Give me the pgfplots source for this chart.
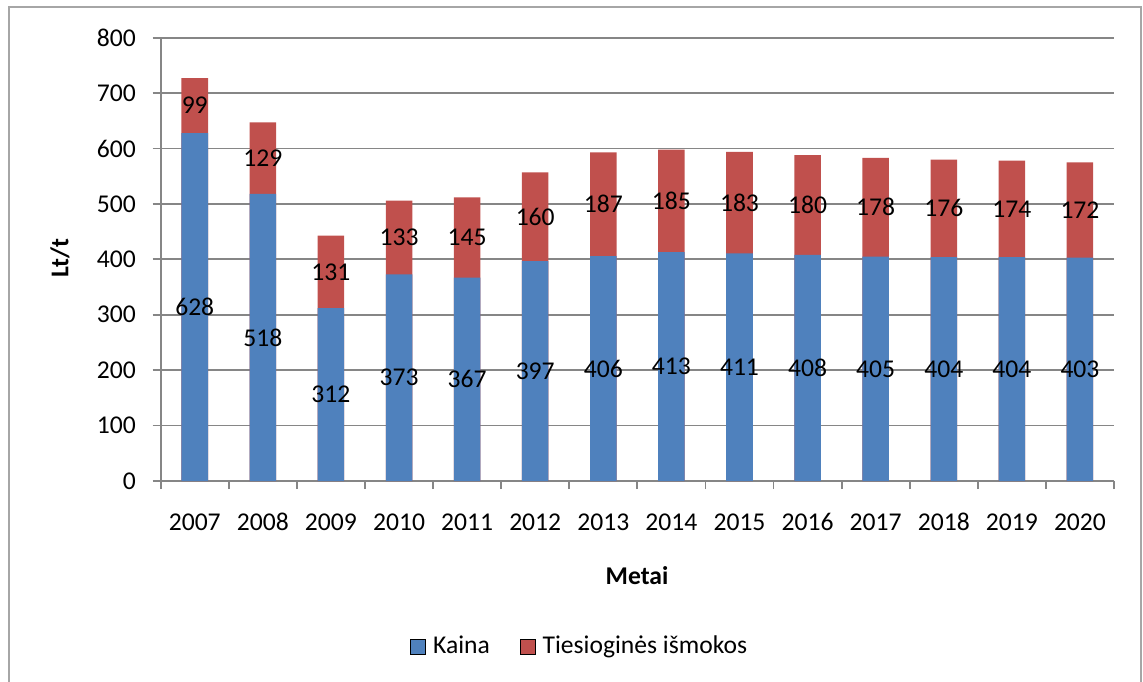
\documentclass[border=0pt]{standalone}
\usepackage{pgfplots}
\pgfplotsset{compat=1.18}
\usepackage{pgfplotstable}
\usepackage{fontspec}
\setmainfont{Carlito}
\definecolor{kblue}{HTML}{4F81BD}
\definecolor{kred}{HTML}{C0504D}
\definecolor{axgray}{HTML}{868686}
\definecolor{framegray}{HTML}{A6A6A6}
\pgfplotsset{/pgf/number format/assume math mode=true}

\pgfplotstableread{
metai kaina ismokos
2007 628 99
2008 518 129
2009 312 131
2010 373 133
2011 367 145
2012 397 160
2013 406 187
2014 413 185
2015 411 183
2016 408 180
2017 405 178
2018 404 176
2019 404 174
2020 403 172
}\datatable

\begin{document}
\fontsize{12.8}{15}\selectfont
\begin{tikzpicture}
\useasboundingbox (-80.35pt,-100pt) rectangle (491.15pt,240.5pt);
\begin{axis}[
  at={(0,0)}, anchor=south west,
  scale only axis, width=476.65pt, height=221.65pt,
  xmin=-0.5, xmax=13.5, ymin=0, ymax=800,
  axis x line*=bottom, axis y line*=left,
  axis line style={axgray, line width=0.9pt},
  xtick={-0.5,0.5,...,13.5},
  x tick label as interval,
  xticklabels={2007,2008,2009,2010,2011,2012,2013,2014,2015,2016,2017,2018,2019,2020},
  ytick={0,100,...,800},
  tick align=outside, major tick length=4pt,
  tick style={axgray, line width=0.9pt},
  ymajorgrids, grid style={axgray, line width=0.9pt},
  ticklabel style={font=\fontsize{12.8}{15}\selectfont, text=black},
  xticklabel style={anchor=base, yshift=-20.5pt},
  yticklabel style={xshift=-4pt},
  xlabel={\textbf{Metai}}, ylabel={\textbf{Lt/t}},
  label style={font=\fontsize{12.8}{15}\selectfont},
  xlabel style={at={(axis description cs:0.4996,-0.2143)}, anchor=center},
  ylabel style={at={(axis description cs:-0.1056,0.503)}, anchor=center},
  legend image code/.code={\fill[#1] (0pt,-3.75pt) rectangle (7.5pt,3.75pt); \path (9pt,0pt);},
  legend style={at={(0.4406,-0.3745)}, anchor=center, draw=none, fill=none,
    legend columns=2, font=\fontsize{12.8}{15}\selectfont,
    /tikz/every even column/.append style={column sep=13pt}},
]
\addplot[ybar, bar width=0.39, bar shift=0pt, fill=kred, draw=none, forget plot]
  table[x expr=\coordindex, y expr=\thisrow{kaina}+\thisrow{ismokos}] {\datatable};
\addplot[ybar, bar width=0.39, bar shift=0pt, fill=kblue, draw=none, forget plot]
  table[x expr=\coordindex, y=kaina] {\datatable};
\addplot[only marks, mark=none, forget plot, point meta=explicit, nodes near coords,
  nodes near coords style={anchor=center, text=black, font=\fontsize{12.8}{15}\selectfont}]
  table[x expr=\coordindex, y expr=\thisrow{kaina}/2, meta=kaina] {\datatable};
\addplot[only marks, mark=none, forget plot, point meta=explicit, nodes near coords,
  nodes near coords style={anchor=center, text=black, font=\fontsize{12.8}{15}\selectfont}]
  table[x expr=\coordindex, y expr=\thisrow{kaina}+\thisrow{ismokos}/2, meta=ismokos] {\datatable};
\addlegendimage{fill=kblue}
\addlegendentry{Kaina}
\addlegendimage{fill=kred}
\addlegendentry{Tiesioginės išmokos}
\end{axis}
\draw[framegray, line width=0.8pt] (-75.7pt,-101pt) rectangle (490.1pt,236.85pt);
\end{tikzpicture}
\end{document}
